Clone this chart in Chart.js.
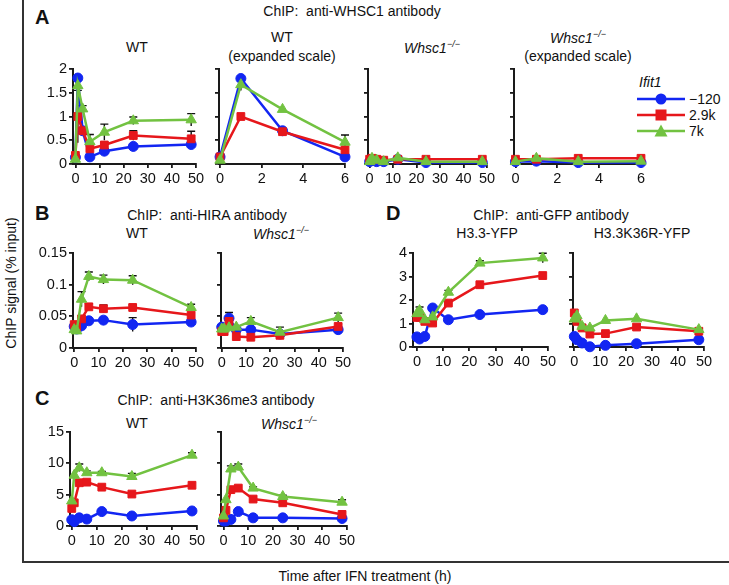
<!DOCTYPE html>
<html>
<head>
<meta charset="utf-8">
<script src="https://cdn.jsdelivr.net/npm/chart.js@4.4.0/dist/chart.umd.min.js"></script>
<style>
  body { margin: 0; background: #fff; width: 729px; height: 585px; position: relative; overflow: hidden;
         font-family: "Liberation Sans", Arial, sans-serif; color: #111; }
  .t { position: absolute; font-size: 14px; white-space: pre; transform: translate(-50%, -50%); line-height: 1; }
  .lab { position: absolute; font-size: 20px; font-weight: bold; transform: translateY(-50%); line-height: 1; }
  .t sup { font-size: 9px; font-style: italic; vertical-align: 6px; }
  canvas { position: absolute; }
  .frame-l { position: absolute; left: 22px; top: 0; width: 2px; height: 563px; background: #333; }
  .frame-b { position: absolute; left: 22px; top: 561px; width: 707px; height: 2px; background: #333; }
  .leg { position: absolute; font-size: 14px; line-height: 1; }
</style>
</head>
<body>
<div class="frame-l"></div>
<div class="frame-b"></div>

<div class="t" style="left:11px;top:283px;transform:translate(-50%,-50%) rotate(-90deg);">ChIP signal (% input)</div>
<div class="t" style="left:365px;top:576px;">Time after IFN treatment (h)</div>

<div class="lab" style="left:35px;top:17px;">A</div>
<div class="t" style="left:352px;top:11px;">ChIP:  anti-WHSC1 antibody</div>
<div class="t" style="left:137px;top:47px;">WT</div>
<div class="t" style="left:282px;top:37px;">WT</div>
<div class="t" style="left:282px;top:56px;">(expanded scale)</div>
<div class="t" style="left:432px;top:47px;"><i>Whsc1</i><sup>−/−</sup></div>
<div class="t" style="left:578px;top:37px;"><i>Whsc1</i><sup>−/−</sup></div>
<div class="t" style="left:578px;top:56px;">(expanded scale)</div>

<div class="lab" style="left:35px;top:213px;">B</div>
<div class="t" style="left:207px;top:215px;">ChIP:  anti-HIRA antibody</div>
<div class="t" style="left:137px;top:233px;">WT</div>
<div class="t" style="left:281px;top:233px;"><i>Whsc1</i><sup>−/−</sup></div>

<div class="lab" style="left:386px;top:213px;">D</div>
<div class="t" style="left:551px;top:215px;">ChIP:  anti-GFP antibody</div>
<div class="t" style="left:487px;top:233px;">H3.3-YFP</div>
<div class="t" style="left:642px;top:233px;">H3.3K36R-YFP</div>

<div class="lab" style="left:35px;top:398px;">C</div>
<div class="t" style="left:216px;top:400px;">ChIP:  anti-H3K36me3 antibody</div>
<div class="t" style="left:137px;top:423px;">WT</div>
<div class="t" style="left:289px;top:423px;"><i>Whsc1</i><sup>−/−</sup></div>

<div id="legend"></div>

<script>
// time points (h)
var timesLong = [0, 1, 3, 6, 12, 24, 48];
var timesShort = [0, 1, 3, 6];
var xTicksLong = [0, 10, 20, 30, 40, 50];
var xTicksShort = [0, 2, 4, 6];
var yTicksA = [0, 0.5, 1, 1.5, 2];
var yTicksB = [0, 0.05, 0.1, 0.15];
var yTicksC = [0, 5, 10, 15];
var yTicksD = [0, 1, 2, 3, 4];
var seriesNames = ["\u2212120", "2.9k", "7k"];
var legendTitle = "Ifit1";

// A: anti-WHSC1, WT
var aWtBlue  = [0.14, 1.81, 0.70, 0.15, 0.27, 0.37, 0.41];
var aWtRed   = [0.18, 1.00, 0.70, 0.32, 0.40, 0.60, 0.53];
var aWtGreen = [0.10, 1.65, 1.16, 0.47, 0.67, 0.91, 0.93];
var aWtRedErr   = [0, 0.55, 0, 0, 0.06, 0.10, 0.16];
var aWtGreenErr = [0, 0.12, 0.07, 0.15, 0.17, 0.08, 0.13];
// A: WT expanded scale
var aWtExpBlue  = [0.15, 1.80, 0.70, 0.15];
var aWtExpRed   = [0.15, 1.00, 0.68, 0.30];
var aWtExpGreen = [0.08, 1.67, 1.15, 0.46];
var aWtExpGreenErr = [0, 0.12, 0, 0.15];
// A: Whsc1-/-
var aKoBlue  = [0.05, 0.08, 0.05, 0.05, 0.10, 0.03, 0.03];
var aKoRed   = [0.10, 0.12, 0.10, 0.08, 0.10, 0.10, 0.10];
var aKoGreen = [0.05, 0.12, 0.08, 0.05, 0.13, 0.05, 0.05];
// A: Whsc1-/- expanded scale
var aKoExpBlue  = [0.05, 0.06, 0.03, 0.03];
var aKoExpRed   = [0.10, 0.10, 0.12, 0.12];
var aKoExpGreen = [0.05, 0.12, 0.05, 0.06];

// B: anti-HIRA
var bWtBlue  = [0.034, 0.030, 0.035, 0.043, 0.044, 0.037, 0.041];
var bWtRed   = [0.037, 0.033, 0.046, 0.065, 0.062, 0.064, 0.052];
var bWtGreen = [0.029, 0.027, 0.077, 0.113, 0.108, 0.107, 0.064];
var bWtBlueErr  = [0, 0, 0, 0.004, 0.004, 0.011, 0];
var bWtRedErr   = [0, 0, 0, 0.005, 0.006, 0.004, 0];
var bWtGreenErr = [0, 0, 0.012, 0.007, 0.007, 0.007, 0.005];
var bKoBlue  = [0.033, 0.030, 0.047, 0.029, 0.029, 0.022, 0.029];
var bKoRed   = [0.026, 0.026, 0.042, 0.018, 0.017, 0.020, 0.034];
var bKoGreen = [0.030, 0.030, 0.032, 0.033, 0.042, 0.025, 0.048];
var bKoBlueErr  = [0, 0, 0.009, 0, 0, 0, 0.004];
var bKoGreenErr = [0, 0, 0, 0, 0.006, 0.008, 0.007];

// C: anti-H3K36me3
var cWtBlue  = [1.0, 0.7, 1.3, 1.1, 2.3, 1.6, 2.4];
var cWtRed   = [2.8, 3.7, 6.9, 7.0, 6.2, 5.1, 6.5];
var cWtGreen = [4.0, 8.1, 9.3, 8.5, 8.5, 7.9, 11.3];
var cWtGreenErr = [0, 0, 0.6, 0.3, 0.2, 0.5, 0.4];
var cKoBlue  = [0.8, 0.8, 1.05, 2.3, 1.3, 1.3, 1.2];
var cKoRed   = [1.3, 2.5, 5.8, 6.05, 4.3, 3.7, 1.85];
var cKoGreen = [1.6, 4.2, 9.1, 9.4, 6.05, 4.7, 3.8];
var cKoGreenErr = [0, 0, 0.5, 0.5, 0.2, 0.2, 0.4];

// D: anti-GFP
var dWtBlue  = [0.43, 0.34, 0.45, 1.66, 1.16, 1.38, 1.59];
var dWtRed   = [1.26, 1.26, 1.09, 1.02, 1.87, 2.65, 3.04];
var dWtGreen = [1.42, 1.55, 1.16, 1.28, 2.33, 3.57, 3.79];
var dWtGreenErr = [0, 0.15, 0, 0, 0.08, 0.1, 0.2];
var dMutBlue  = [0.45, 0.31, 0.17, 0.01, 0.07, 0.14, 0.31];
var dMutRed   = [1.45, 1.09, 0.81, 0.55, 0.57, 0.85, 0.67];
var dMutGreen = [1.19, 1.33, 0.88, 0.81, 1.13, 1.20, 0.74];
var dMutGreenErr = [0, 0, 0.08, 0.06, 0, 0, 0.05];

var BLUE = "#1226f2", RED = "#e6171b", GREEN = "#72c241";
var FONT = "'Liberation Sans', Arial, sans-serif";
var PAD_L = 42, PAD_R = 16, PAD_T = 10, PAD_B = 26;

var errorBars = {
  id: "errorBars",
  beforeDatasetsDraw: function (chart) {
    var ctx = chart.ctx, ys = chart.scales.y;
    ctx.save();
    ctx.strokeStyle = "#111";
    ctx.lineWidth = 1.4;
    chart.data.datasets.forEach(function (d, di) {
      if (!d.errs) return;
      var meta = chart.getDatasetMeta(di);
      d.errs.forEach(function (e, i) {
        if (!e) return;
        var p = meta.data[i];
        var v = d.data[i].y;
        var yTop = ys.getPixelForValue(v + e);
        var yBot = ys.getPixelForValue(Math.max(0, v - e));
        ctx.beginPath();
        ctx.moveTo(p.x, yBot); ctx.lineTo(p.x, yTop);
        ctx.moveTo(p.x - 4, yTop); ctx.lineTo(p.x + 4, yTop);
        ctx.stroke();
      });
    });
    ctx.restore();
  }
};

function series(times, vals, errs, color, style, radius, order) {
  return {
    data: times.map(function (t, i) { return { x: t, y: vals[i] }; }),
    errs: errs || null,
    borderColor: color,
    backgroundColor: color,
    pointBorderColor: color,
    pointBackgroundColor: color,
    pointStyle: style,
    pointRadius: radius,
    pointBorderWidth: 1,
    borderWidth: 2.5,
    tension: 0,
    clip: false,
    order: order
  };
}

function makeChart(box, times, xTicks, yTicks, blue, red, green, errs, showY) {
  errs = errs || [];
  var cv = document.createElement("canvas");
  var w = box.right - box.left + PAD_L + PAD_R;
  var h = box.bottom - box.top + PAD_T + PAD_B;
  cv.width = w; cv.height = h;
  cv.style.left = (box.left - PAD_L) + "px";
  cv.style.top = (box.top - PAD_T) + "px";
  cv.style.width = w + "px"; cv.style.height = h + "px";
  document.body.appendChild(cv);

  var axisBase = {
    type: "linear",
    grid: { drawOnChartArea: false, drawTicks: true, tickLength: 4, color: "#1a1a1a", lineWidth: 1.8 },
    border: { display: true, color: "#1a1a1a", width: 2 }
  };

  new Chart(cv, {
    type: "line",
    data: {
      datasets: [
        series(times, blue, errs[0], BLUE, "circle", 5, 2),
        series(times, red, errs[1], RED, "rect", 5.5, 1),
        series(times, green, errs[2], GREEN, "triangle", 6, 0)
      ]
    },
    options: {
      responsive: false,
      animation: false,
      events: [],
      layout: { padding: { left: 0, top: PAD_T, right: PAD_R, bottom: 0 } },
      plugins: { legend: { display: false }, tooltip: { enabled: false } },
      scales: {
        x: Object.assign({}, axisBase, {
          min: box.xmin,
          max: xTicks[xTicks.length - 1],
          afterBuildTicks: function (s) { s.ticks = xTicks.map(function (v) { return { value: v }; }); },
          afterFit: function (s) { s.height = PAD_B; s.paddingLeft = 0; s.paddingRight = 0; },
          ticks: { color: "#111", font: { family: FONT, size: 14.5 }, padding: 2, maxRotation: 0, autoSkip: false,
                   callback: function (v) { return String(v); } }
        }),
        y: Object.assign({}, axisBase, {
          min: 0,
          max: yTicks[yTicks.length - 1],
          afterBuildTicks: function (s) { s.ticks = yTicks.map(function (v) { return { value: v }; }); },
          afterFit: function (s) { s.width = PAD_L; s.paddingTop = 0; s.paddingBottom = 0; },
          ticks: { color: "#111", font: { family: FONT, size: 14.5 }, padding: 2, autoSkip: false,
                   callback: function (v) { return showY ? String(+v.toFixed(3)) : ""; } }
        })
      }
    },
    plugins: [errorBars]
  });
}

// panel A
makeChart({ left: 73, right: 196, top: 69, bottom: 164, xmin: -1 }, timesLong, xTicksLong, yTicksA,
  aWtBlue, aWtRed, aWtGreen, [null, aWtRedErr, aWtGreenErr], true);
makeChart({ left: 219, right: 345, top: 69, bottom: 164, xmin: -0.05 }, timesShort, xTicksShort, yTicksA,
  aWtExpBlue, aWtExpRed, aWtExpGreen, [null, null, aWtExpGreenErr], false);
makeChart({ left: 368, right: 487, top: 69, bottom: 164, xmin: -0.7 }, timesLong, xTicksLong, yTicksA,
  aKoBlue, aKoRed, aKoGreen, null, false);
makeChart({ left: 514, right: 641, top: 69, bottom: 164, xmin: -0.07 }, timesShort, xTicksShort, yTicksA,
  aKoExpBlue, aKoExpRed, aKoExpGreen, null, false);
// panel B
makeChart({ left: 73, right: 196, top: 253, bottom: 348, xmin: -0.5 }, timesLong, xTicksLong, yTicksB,
  bWtBlue, bWtRed, bWtGreen, [bWtBlueErr, bWtRedErr, bWtGreenErr], true);
makeChart({ left: 221, right: 343, top: 253, bottom: 348, xmin: -0.3 }, timesLong, xTicksLong, yTicksB,
  bKoBlue, bKoRed, bKoGreen, [bKoBlueErr, null, bKoGreenErr], false);
// panel C
makeChart({ left: 70, right: 197, top: 432, bottom: 526, xmin: -0.7 }, timesLong, xTicksLong, yTicksC,
  cWtBlue, cWtRed, cWtGreen, [null, null, cWtGreenErr], true);
makeChart({ left: 221, right: 347, top: 432, bottom: 526, xmin: -1 }, timesLong, xTicksLong, yTicksC,
  cKoBlue, cKoRed, cKoGreen, [null, null, cKoGreenErr], false);
// panel D
makeChart({ left: 413, right: 548, top: 253, bottom: 347, xmin: -1.5 }, timesLong, xTicksLong, yTicksD,
  dWtBlue, dWtRed, dWtGreen, [null, null, dWtGreenErr], true);
makeChart({ left: 573, right: 704, top: 253, bottom: 347, xmin: -0.5 }, timesLong, xTicksLong, yTicksD,
  dMutBlue, dMutRed, dMutGreen, [null, null, dMutGreenErr], false);

// legend
(function () {
  var host = document.getElementById("legend");
  var colors = [BLUE, RED, GREEN];
  var marks = [
    '<circle cx="24" cy="7" r="5.5" fill="C"/>',
    '<rect x="18.5" y="1.5" width="11" height="11" fill="C"/>',
    '<polygon points="24,0.5 30.5,12.5 17.5,12.5" fill="C"/>'
  ];
  var html = '<div class="leg" style="left:639px;top:75px;"><i>' + legendTitle + '</i></div>';
  seriesNames.forEach(function (name, i) {
    var y = 92 + i * 16;
    html += '<svg style="position:absolute;left:637px;top:' + y + 'px" width="48" height="14">' +
      '<line x1="0" y1="7" x2="48" y2="7" stroke="' + colors[i] + '" stroke-width="2.5"/>' +
      marks[i].replace("C", colors[i]) + '</svg>' +
      '<div class="leg" style="left:689px;top:' + (y) + 'px;">' + name + '</div>';
  });
  host.innerHTML = html;
})();
</script>
</body>
</html>
